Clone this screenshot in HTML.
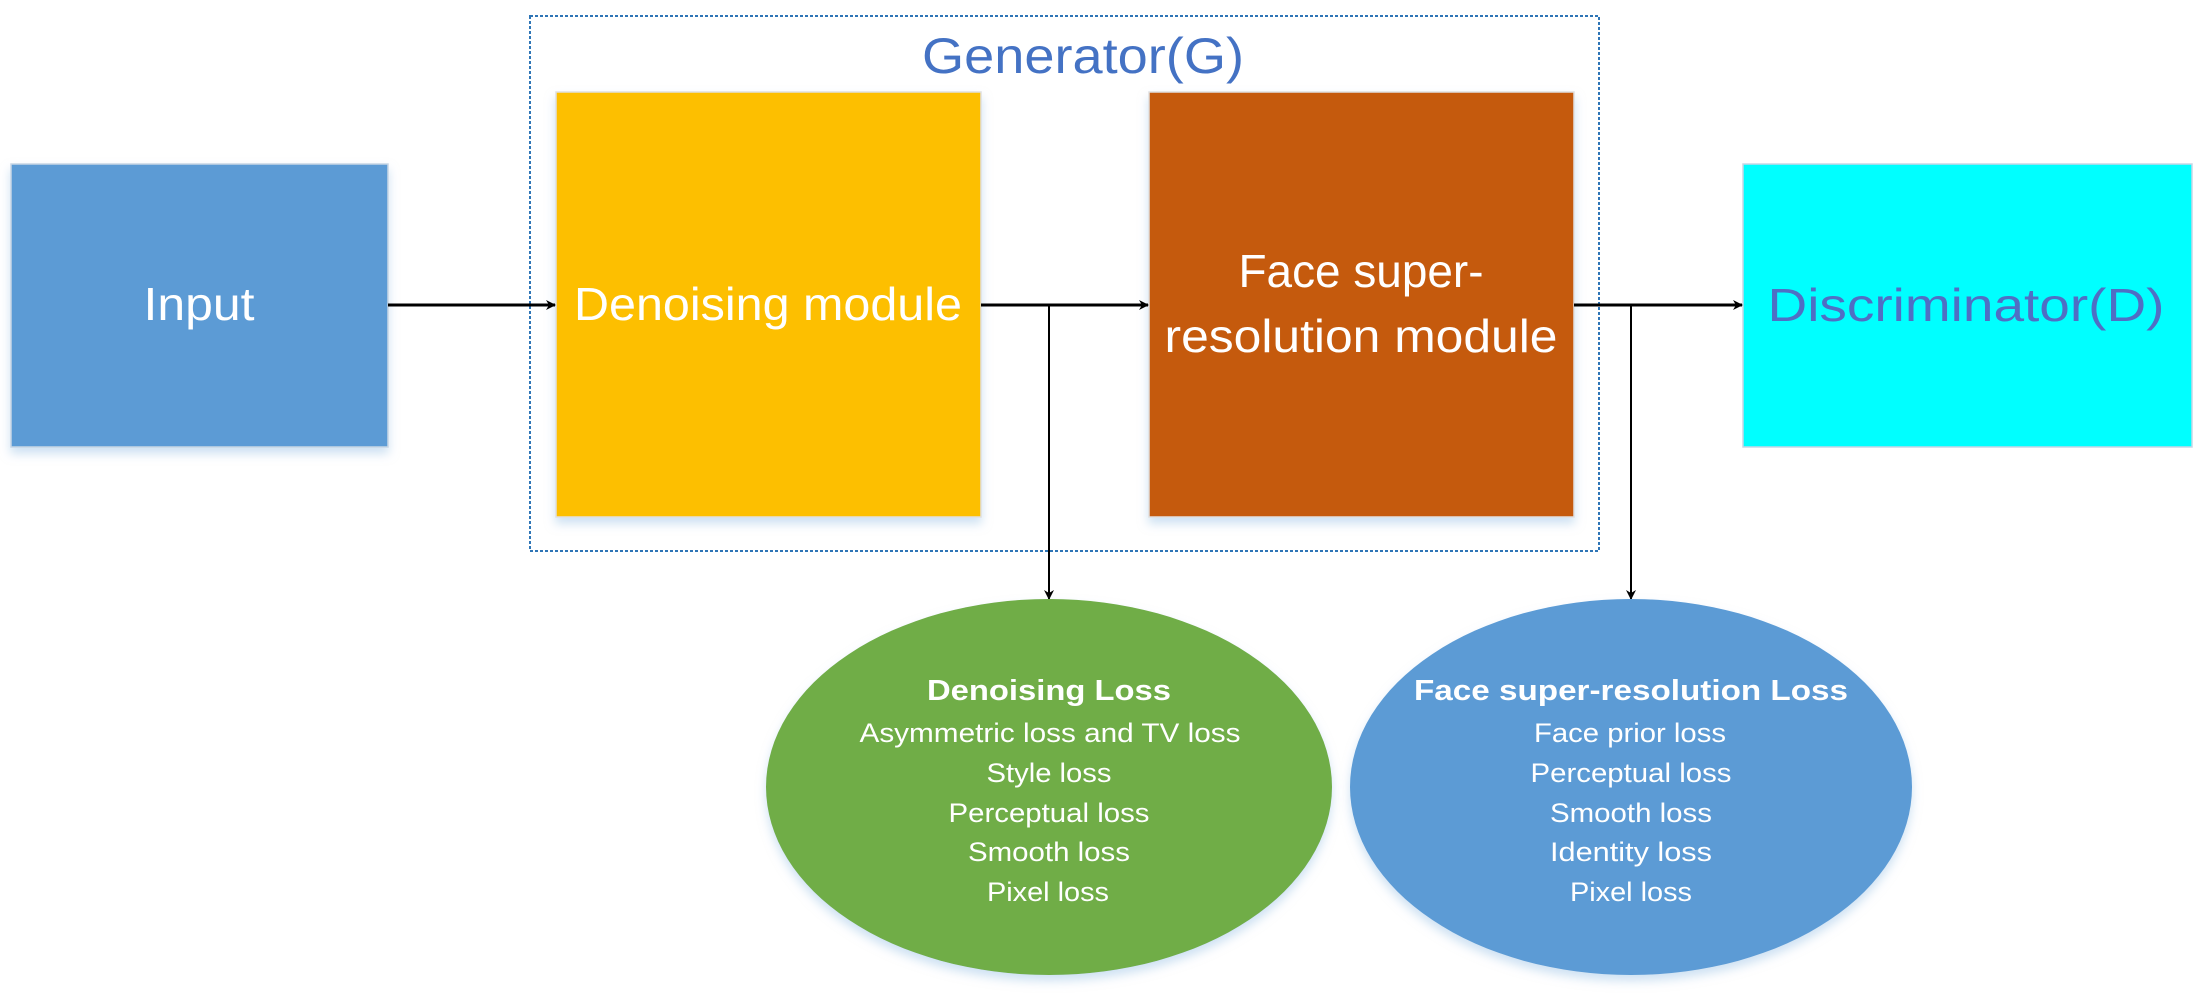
<!DOCTYPE html>
<html><head><meta charset="utf-8"><style>html,body{margin:0;padding:0;background:#fff}svg{display:block}</style></head>
<body>
<svg width="2199" height="997" viewBox="0 0 2199 997" xmlns="http://www.w3.org/2000/svg" font-family="'Liberation Sans', sans-serif">
<defs>
<marker id="ah" markerWidth="10" markerHeight="10" refX="9" refY="5" orient="auto" markerUnits="userSpaceOnUse">
<path d="M0,0 L10,5 L0,10 L3,5 z" fill="#000"/>
</marker>
<filter id="sh" x="-10%" y="-10%" width="120%" height="130%"><feDropShadow dx="0" dy="6" stdDeviation="5" flood-color="#9dc3e6" flood-opacity="0.5"/></filter>
</defs>
<rect x="530" y="16" width="1069" height="535" fill="none" stroke="#2e75b6" stroke-width="2" stroke-dasharray="3,2"/>
<text x="1083" y="73" font-size="50" fill="#4472c4" text-anchor="middle" textLength="322" lengthAdjust="spacingAndGlyphs">Generator(G)</text>
<rect x="11" y="164" width="377" height="283" fill="#5b9bd5" stroke="#c8d6e5" stroke-width="1.5" filter="url(#sh)"/>
<rect x="556" y="92" width="425" height="425" fill="#fdbf00" stroke="#e0e0e0" stroke-width="1.5" filter="url(#sh)"/>
<rect x="1149" y="92" width="425" height="425" fill="#c55a11" stroke="#e0e0e0" stroke-width="1.5" filter="url(#sh)"/>
<rect x="1743" y="164" width="449" height="283" fill="#00ffff" stroke="#c8d6e5" stroke-width="1.5"/>
<text x="199" y="320" font-size="46" fill="#fff" text-anchor="middle" textLength="111" lengthAdjust="spacingAndGlyphs">Input</text>
<text x="768" y="320" font-size="46" fill="#fff" text-anchor="middle" textLength="388" lengthAdjust="spacingAndGlyphs">Denoising module</text>
<text x="1361" y="287" font-size="46" fill="#fff" text-anchor="middle" textLength="245" lengthAdjust="spacingAndGlyphs">Face super-</text>
<text x="1361" y="352" font-size="46" fill="#fff" text-anchor="middle" textLength="393" lengthAdjust="spacingAndGlyphs">resolution module</text>
<text x="1966" y="321" font-size="46" fill="#4f6fc4" text-anchor="middle" textLength="397" lengthAdjust="spacingAndGlyphs">Discriminator(D)</text>
<g stroke="#000" stroke-width="3" fill="none">
<line x1="388" y1="305" x2="555" y2="305" marker-end="url(#ah)"/>
<line x1="981" y1="305" x2="1148" y2="305" marker-end="url(#ah)"/>
<line x1="1574" y1="305" x2="1742" y2="305" marker-end="url(#ah)"/>
</g>
<g stroke="#000" stroke-width="2" fill="none">
<line x1="1049" y1="305" x2="1049" y2="599" marker-end="url(#ah)"/>
<line x1="1631" y1="305" x2="1631" y2="599" marker-end="url(#ah)"/>
</g>
<ellipse cx="1049" cy="787" rx="283" ry="188" fill="#70ad47" filter="url(#sh)"/>
<ellipse cx="1631" cy="787" rx="281" ry="188" fill="#5b9bd5" filter="url(#sh)"/>
<g fill="#fff" text-anchor="middle" font-size="27">
<text x="1049" y="700" font-weight="bold" font-size="29" textLength="244" lengthAdjust="spacingAndGlyphs">Denoising Loss</text>
<text x="1050" y="742" textLength="381" lengthAdjust="spacingAndGlyphs">Asymmetric loss and TV loss</text>
<text x="1049" y="782" textLength="125" lengthAdjust="spacingAndGlyphs">Style loss</text>
<text x="1049" y="822" textLength="201" lengthAdjust="spacingAndGlyphs">Perceptual loss</text>
<text x="1049" y="861" textLength="162" lengthAdjust="spacingAndGlyphs">Smooth loss</text>
<text x="1048" y="901" textLength="122" lengthAdjust="spacingAndGlyphs">Pixel loss</text>
<text x="1631" y="700" font-weight="bold" font-size="29" textLength="434" lengthAdjust="spacingAndGlyphs">Face super-resolution Loss</text>
<text x="1630" y="742" textLength="192" lengthAdjust="spacingAndGlyphs">Face prior loss</text>
<text x="1631" y="782" textLength="201" lengthAdjust="spacingAndGlyphs">Perceptual loss</text>
<text x="1631" y="822" textLength="162" lengthAdjust="spacingAndGlyphs">Smooth loss</text>
<text x="1631" y="861" textLength="162" lengthAdjust="spacingAndGlyphs">Identity loss</text>
<text x="1631" y="901" textLength="122" lengthAdjust="spacingAndGlyphs">Pixel loss</text>
</g>
</svg>
</body></html>
